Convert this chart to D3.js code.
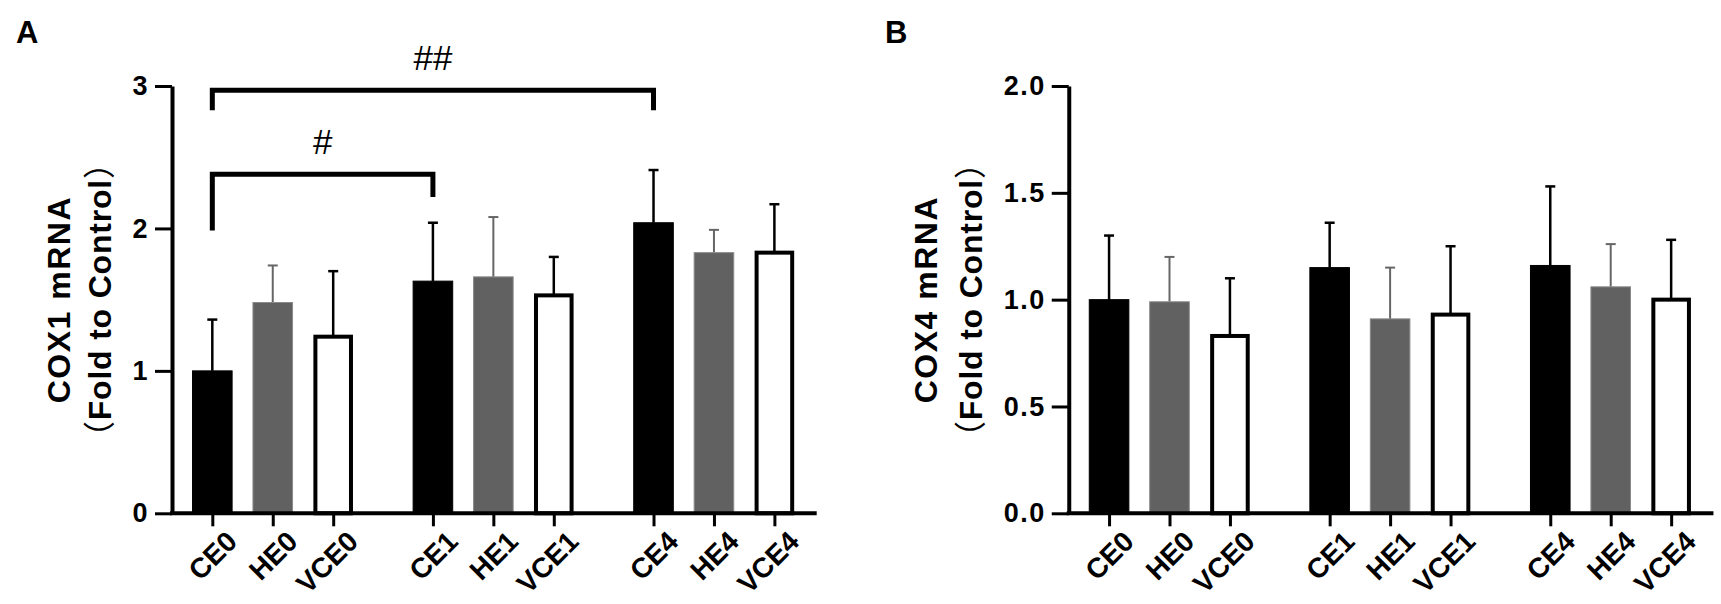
<!DOCTYPE html>
<html>
<head>
<meta charset="utf-8">
<script src="https://cdn.jsdelivr.net/npm/d3@7"></script>
<style>
  body { margin: 0; background: #fff; }
  text { font-family: "Liberation Sans", Arial, "Noto Sans CJK SC", sans-serif; font-weight: bold; fill: #000; }
  .cjk { font-family: "Noto Sans CJK SC", sans-serif; font-weight: normal; }
</style>
</head>
<body>
<script>
// values (mean and upper SD)
var categories = ["CE0", "HE0", "VCE0", "CE1", "HE1", "VCE1", "CE4", "HE4", "VCE4"];

var cox1Mean = [1.00, 1.48, 1.24, 1.63, 1.66, 1.53, 2.04, 1.83, 1.83];
var cox1Err  = [0.36, 0.26, 0.46, 0.41, 0.42, 0.27, 0.37, 0.16, 0.34];

var cox4Mean = [1.00, 0.99, 0.83, 1.15, 0.91, 0.93, 1.16, 1.06, 1.00];
var cox4Err  = [0.30, 0.21, 0.27, 0.21, 0.24, 0.32, 0.37, 0.20, 0.28];

var cox1Ticks = [0, 1, 2, 3];
var cox4Ticks = [0, 0.5, 1.0, 1.5, 2.0];

// significance brackets (levels in data units)
var cox1Marks = [
  {from: "CE0", to: "CE1", label: "#",  level: 2.38, left: 1.985, right: 2.22},
  {from: "CE0", to: "CE4", label: "##", level: 2.97, left: 2.83,  right: 2.83}
];

// set the dimensions of each panel
var svgW = 1721, svgH = 604;
var plotTop = 86, plotBottom = 513.3, plotW = 644.7;
var groupStride = 3.65;   // 3 bars + gap, in bar slots

function slot(i) { return Math.floor(i / 3) * groupStride + (i % 3); }
function kind(c) { return c.replace(/[0-9]/g, ""); }

var svg = d3.select("body").append("svg")
    .attr("width", svgW)
    .attr("height", svgH);

function drawPanel(opt) {
  var g = svg.append("g").attr("transform", "translate(" + opt.left + ",0)");

  var x = d3.scaleLinear().domain([-0.667, 2 * groupStride + 2.7]).range([0, plotW]);
  var y = d3.scaleLinear().domain([0, opt.max]).range([plotBottom, plotTop]);
  var bw = x(0.655) - x(0);

  var data = categories.map(function(c, i) {
    return {name: c, kind: kind(c), pos: slot(i), mean: opt.mean[i], err: opt.err[i]};
  });

  // error bars (upper only)
  var eb = g.selectAll(".err").data(data).enter().append("g")
      .attr("class", "err")
      .attr("stroke", function(d) { return d.kind === "HE" ? "#666" : "#000"; })
      .attr("stroke-width", function(d) { return d.kind === "HE" ? 2 : 2.5; });
  eb.append("line")
      .attr("x1", function(d) { return x(d.pos); })
      .attr("x2", function(d) { return x(d.pos); })
      .attr("y1", function(d) { return y(d.mean); })
      .attr("y2", function(d) { return y(d.mean + d.err); });
  eb.append("line")
      .attr("x1", function(d) { return x(d.pos) - 5; })
      .attr("x2", function(d) { return x(d.pos) + 5; })
      .attr("y1", function(d) { return y(d.mean + d.err); })
      .attr("y2", function(d) { return y(d.mean + d.err); });

  // bars
  g.selectAll(".bar").data(data).enter().append("rect")
      .attr("class", "bar")
      .attr("x", function(d) { return x(d.pos) - bw / 2 + (d.kind === "VCE" ? 2 : 0); })
      .attr("width", function(d) { return d.kind === "VCE" ? bw - 4 : bw; })
      .attr("y", function(d) { return y(d.mean); })
      .attr("height", function(d) { return y(0) - y(d.mean); })
      .attr("fill", function(d) { return d.kind === "CE" ? "#000" : d.kind === "HE" ? "#616161" : "#fff"; })
      .attr("stroke", function(d) { return d.kind === "CE" ? "#000" : d.kind === "HE" ? "#8a8a8a" : "#000"; })
      .attr("stroke-width", function(d) { return d.kind === "VCE" ? 4 : 1; });

  // Y axis
  var ya = g.append("g")
      .call(d3.axisLeft(y).tickValues(opt.ticks).tickFormat(opt.fmt)
        .tickSize(17).tickPadding(6).tickSizeOuter(0));
  ya.attr("font-family", null);
  ya.select(".domain").attr("stroke-width", 4);
  ya.selectAll(".tick line").attr("stroke-width", 3);
  ya.selectAll(".tick text").attr("font-size", 27).attr("fill", "#000")
      .attr("letter-spacing", 1.5);

  // X axis
  var xa = g.append("g")
      .attr("transform", "translate(0," + y(0) + ")")
      .call(d3.axisBottom(x).tickValues(data.map(function(d) { return d.pos; }))
        .tickFormat(function(v, i) { return categories[i]; })
        .tickSize(13).tickSizeOuter(0));
  xa.attr("font-family", null);
  xa.select(".domain").attr("stroke-width", 4).attr("d", "M-2,0H" + plotW);
  xa.selectAll(".tick line").attr("stroke-width", 3);
  xa.selectAll(".tick text")
      .attr("font-size", 28)
      .attr("fill", "#000")
      .attr("y", 0).attr("dy", 0)
      .attr("text-anchor", "end")
      .attr("transform", "translate(26,30) rotate(-45)");

  // Y title, two lines
  var cy = (plotTop + plotBottom) / 2;
  svg.append("text")
      .attr("transform", "translate(" + opt.title1X + "," + cy + ") rotate(-90)")
      .attr("text-anchor", "middle")
      .attr("font-size", 32)
      .attr("letter-spacing", 1.5)
      .text(opt.title1);
  var t2 = svg.append("text")
      .attr("transform", "translate(" + opt.title2X + "," + cy + ") rotate(-90)")
      .attr("text-anchor", "middle")
      .attr("font-size", 32)
      .attr("letter-spacing", 0.8);
  t2.append("tspan").attr("class", "cjk").text("（");
  t2.append("tspan").text("Fold to Control");
  t2.append("tspan").attr("class", "cjk").text("）");

  // panel letter
  svg.append("text")
      .attr("x", opt.letterX).attr("y", 43)
      .attr("font-size", 31)
      .text(opt.letter);

  // significance brackets
  (opt.marks || []).forEach(function(m) {
    var x1 = x(slot(categories.indexOf(m.from)));
    var x2 = x(slot(categories.indexOf(m.to)));
    g.append("path")
        .attr("d", "M" + x1 + "," + y(m.left) + "V" + y(m.level) + "H" + x2 + "V" + y(m.right))
        .attr("fill", "none")
        .attr("stroke", "#000")
        .attr("stroke-width", 5);
    g.append("text")
        .attr("x", (x1 + x2) / 2)
        .attr("y", y(m.level) - 20)
        .attr("text-anchor", "middle")
        .attr("font-size", 35)
        .style("font-weight", "normal")
        .text(m.label);
  });
}

drawPanel({
  left: 172, max: 3, mean: cox1Mean, err: cox1Err, ticks: cox1Ticks,
  fmt: d3.format("d"), title1: "COX1 mRNA", title1X: 70, title2X: 111,
  letter: "A", letterX: 16, marks: cox1Marks
});

drawPanel({
  left: 1068.75, max: 2, mean: cox4Mean, err: cox4Err, ticks: cox4Ticks,
  fmt: d3.format(".1f"), title1: "COX4 mRNA", title1X: 937, title2X: 982,
  letter: "B", letterX: 885, marks: []
});
</script>
</body>
</html>
